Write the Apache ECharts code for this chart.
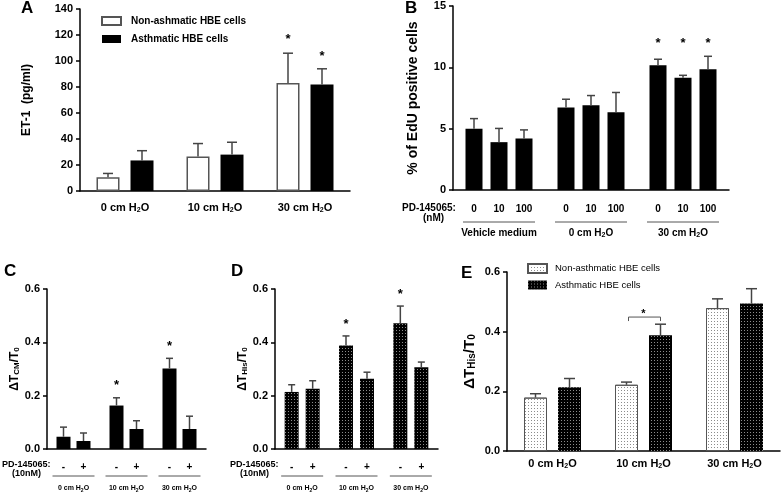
<!DOCTYPE html>
<html><head><meta charset="utf-8">
<script src="https://cdn.jsdelivr.net/npm/echarts@6/dist/echarts.min.js"></script>
<style>html,body{margin:0;padding:0;background:#fff}#c{width:781px;height:493px}</style>
</head><body><div id="c"></div>
<script>
// ---------- DATA ----------
// Panel A: ET-1 (pg/ml)
const catsA = ['0 cm H2O', '10 cm H2O', '30 cm H2O'];
const aNonMean = [10.5, 26.5, 83];
const aNonSem = [3, 10, 23];
const aAsthMean = [23.5, 28, 82];
const aAsthSem = [7.5, 9.5, 12];
const aNonStar = [0, 0, 119];
const aAsthStar = [0, 0, 106];
const aYAxis = [0, 140, 20];
// Panel B: % of EdU positive cells
const catsB = ['Vehicle medium', '0 cm H2O', '30 cm H2O'];
const dosesB = ['0', '10', '100'];
const b0Mean = [5.0, 6.72, 10.18];
const b0Sem = [0.82, 0.68, 0.48];
const b10Mean = [3.9, 6.9, 9.15];
const b10Sem = [1.12, 0.8, 0.2];
const b100Mean = [4.2, 6.33, 9.85];
const b100Sem = [0.7, 1.62, 1.05];
const bStar = [0, 0, 12.2];
const bYAxis = [0, 15, 5];
// Panel C: dT_CM/T0
const catsC = ['0 cm H2O', '10 cm H2O', '30 cm H2O'];
const pdLabels = ['-', '+'];
const cMinusMean = [0.046, 0.163, 0.302];
const cMinusSem = [0.036, 0.029, 0.038];
const cPlusMean = [0.03, 0.075, 0.075];
const cPlusSem = [0.03, 0.031, 0.048];
const cStar = [0, 0.248, 0.397];
// Panel D: dT_His/T0
const catsD = ['0 cm H2O', '10 cm H2O', '30 cm H2O'];
const dMinusMean = [0.214, 0.388, 0.472];
const dMinusSem = [0.027, 0.036, 0.064];
const dPlusMean = [0.226, 0.263, 0.307];
const dPlusSem = [0.03, 0.025, 0.019];
const dStar = [0, 0.479, 0.59];
// Panel E: dT_His/T0
const catsE = ['0 cm H2O', '10 cm H2O', '30 cm H2O'];
const eNonMean = [0.179, 0.222, 0.479];
const eNonSem = [0.013, 0.009, 0.031];
const eAsthMean = [0.214, 0.388, 0.494];
const eAsthSem = [0.029, 0.037, 0.05];
const eBracketCat = [1];
const eBracketY = [0.449];
const eBracketStar = [0.468];
const cdeYAxis = [0, 0.6, 0.2];

// ---------- HELPERS ----------
const F = 'Liberation Sans, Arial, sans-serif';
const h2o = v => v.replace('H2O', 'H{s|2}O');
function xAx(gi, cats, margin, fs) {
  return {
    type: 'category', gridIndex: gi, data: cats,
    axisTick: {show: false},
    axisLine: {lineStyle: {color: '#000', width: 1.5}},
    axisLabel: {
      interval: 0, hideOverlap: false,
      margin: margin, color: '#000', fontFamily: F, fontWeight: 'bold', fontSize: fs,
      lineHeight: fs + 2, formatter: h2o,
      rich: {s: {fontSize: Math.round(fs * 0.65), fontWeight: 'bold', fontFamily: F, color: '#000', verticalAlign: 'bottom', lineHeight: fs + 2}}
    }
  };
}
function yAx(gi, ax, name, nameGap, nfs, fmt) {
  return {
    type: 'value', gridIndex: gi, min: ax[0], max: ax[1], interval: ax[2],
    axisLine: {show: true, lineStyle: {color: '#000', width: 1.5}},
    axisTick: {show: true, length: 4, lineStyle: {color: '#000', width: 1.5}},
    splitLine: {show: false},
    axisLabel: {margin: 7, color: '#000', fontFamily: F, fontWeight: 'bold', fontSize: 11, formatter: fmt},
    name: name, nameLocation: 'middle', nameGap: nameGap, nameRotate: 90,
    nameTextStyle: {
      color: '#000', fontFamily: F, fontWeight: 'bold', fontSize: nfs,
      rich: {s: {fontSize: Math.round(nfs * 0.65), fontWeight: 'bold', fontFamily: F, color: '#000', verticalAlign: 'bottom'}}
    }
  };
}
function errSeries(gi, means, sems, stars, offset, capW) {
  return {
    type: 'custom', xAxisIndex: gi, yAxisIndex: gi, z: 5, silent: true,
    data: means.map((m, i) => [i, m, sems[i], stars ? stars[i] : 0]),
    encode: {x: 0, y: 1},
    renderItem(params, api) {
      const i = api.value(0), m = api.value(1), s = api.value(2), st = api.value(3);
      const p0 = api.coord([i, m]), p1 = api.coord([i, m + s]);
      const x = p0[0] + offset;
      const ch = [
        {type: 'line', shape: {x1: x, y1: p0[1], x2: x, y2: p1[1]}, style: {stroke: '#444', lineWidth: 1.5}},
        {type: 'line', shape: {x1: x - capW / 2, y1: p1[1], x2: x + capW / 2, y2: p1[1]}, style: {stroke: '#444', lineWidth: 1.5}}
      ];
      if (st > 0) {
        const ps = api.coord([i, st]);
        ch.push({type: 'text', style: {text: '*', x: x, y: ps[1] + 3, align: 'center', verticalAlign: 'middle', textAlign: 'center', textVerticalAlign: 'middle', font: 'bold 13px ' + F, fill: '#000'}});
      }
      return {type: 'group', children: ch};
    }
  };
}
function subLabels(gi, cats, labels, spacing, textOff, lineOff, lineHalf, font) {
  return {
    type: 'custom', xAxisIndex: gi, yAxisIndex: gi, z: 5, silent: true,
    data: cats.map((c, i) => [i, 0]), encode: {x: 0, y: 1},
    renderItem(params, api) {
      const p = api.coord([api.value(0), 0]);
      const n = labels.length;
      const ch = labels.map((t, k) => ({type: 'text', style: {text: t, x: p[0] + (k - (n - 1) / 2) * spacing, y: p[1] + textOff, align: 'center', verticalAlign: 'middle', textAlign: 'center', textVerticalAlign: 'middle', font: font, fill: '#000'}}));
      ch.push({type: 'line', shape: {x1: p[0] - lineHalf, y1: p[1] + lineOff, x2: p[0] + lineHalf, y2: p[1] + lineOff}, style: {stroke: '#555', lineWidth: 1}});
      return {type: 'group', children: ch};
    }
  };
}
const decalDark = {symbol: 'rect', symbolSize: 1, color: 'rgba(255,255,255,0.55)', dashArrayX: [1, 2], dashArrayY: [1, 2], rotation: 0};
const decalLight = {symbol: 'rect', symbolSize: 1, color: 'rgba(0,0,0,0.45)', dashArrayX: [1, 2], dashArrayY: [1, 2], rotation: 0};
const blackBar = {color: '#000'};
const fmt1 = v => v.toFixed(1);

const wA = 23, gA = 11, wB = 17, gB = 8, wC = 14, gC = 6, wD = 14, gD = 7, wE = 23, gE = 11;
const sA = (wA + gA) / 2, sB = wB + gB, sC = (wC + gC) / 2, sD = (wD + gD) / 2, sE = (wE + gE) / 2;

const option = {
  backgroundColor: '#fff',
  animation: false,
  grid: [
    {left: 80, top: 9, width: 270, height: 182},
    {left: 453, top: 6, width: 276, height: 184},
    {left: 47, top: 289, width: 159, height: 161},
    {left: 275, top: 289, width: 163, height: 161},
    {left: 507, top: 272, width: 273, height: 179}
  ],
  xAxis: [
    xAx(0, catsA, 10, 11),
    xAx(1, catsB, 37, 10),
    xAx(2, catsC, 35, 7),
    xAx(3, catsD, 35, 7),
    xAx(4, catsE, 6, 11)
  ],
  yAxis: [
    yAx(0, aYAxis, 'ET-1  (pg/ml)', 47, 12),
    yAx(1, bYAxis, '% of EdU positive cells', 33, 14),
    yAx(2, cdeYAxis, 'ΔT{s|CM}/T{s|0}', 26, 12, fmt1),
    yAx(3, cdeYAxis, 'ΔT{s|His}/T{s|0}', 20, 12, fmt1),
    yAx(4, cdeYAxis, 'ΔT{s|His}/T{s|0}', 30, 15, fmt1)
  ],
  legend: [
    {left: 96, top: 11, orient: 'vertical', icon: 'rect', itemWidth: 19, itemHeight: 8, itemGap: 8, selectedMode: false,
     data: ['Non-ashmatic HBE cells', 'Asthmatic HBE cells'],
     textStyle: {fontFamily: F, fontWeight: 'bold', fontSize: 10, color: '#000', padding: [0, 0, 0, 5]}},
    {left: 522, top: 258, orient: 'vertical', icon: 'rect', itemWidth: 19, itemHeight: 9, itemGap: 6, selectedMode: false,
     data: ['Non-asthmatic HBE cells', 'Asthmatic HBE cells '],
     textStyle: {fontFamily: F, fontSize: 9.5, color: '#000', padding: [0, 0, 0, 3]}}
  ],
  series: [
    // A
    {type: 'bar', name: 'Non-ashmatic HBE cells', xAxisIndex: 0, yAxisIndex: 0, data: aNonMean, barWidth: wA, barGap: (gA / wA * 100) + '%', itemStyle: {color: '#fff', borderColor: '#555', borderWidth: 1.5}},
    {type: 'bar', name: 'Asthmatic HBE cells', xAxisIndex: 0, yAxisIndex: 0, data: aAsthMean, barWidth: wA, barGap: (gA / wA * 100) + '%', itemStyle: blackBar},
    errSeries(0, aNonMean, aNonSem, aNonStar, -sA, 10),
    errSeries(0, aAsthMean, aAsthSem, aAsthStar, sA, 10),
    // B
    {type: 'bar', name: 'b0', xAxisIndex: 1, yAxisIndex: 1, data: b0Mean, barWidth: wB, barGap: (gB / wB * 100) + '%', itemStyle: blackBar},
    {type: 'bar', name: 'b10', xAxisIndex: 1, yAxisIndex: 1, data: b10Mean, barWidth: wB, barGap: (gB / wB * 100) + '%', itemStyle: blackBar},
    {type: 'bar', name: 'b100', xAxisIndex: 1, yAxisIndex: 1, data: b100Mean, barWidth: wB, barGap: (gB / wB * 100) + '%', itemStyle: blackBar},
    errSeries(1, b0Mean, b0Sem, bStar, -sB, 8),
    errSeries(1, b10Mean, b10Sem, bStar, 0, 8),
    errSeries(1, b100Mean, b100Sem, bStar, sB, 8),
    subLabels(1, catsB, dosesB, sB, 19, 32, 36, 'bold 10px ' + F),
    // C
    {type: 'bar', name: 'c-', xAxisIndex: 2, yAxisIndex: 2, data: cMinusMean, barWidth: wC, barGap: (gC / wC * 100) + '%', itemStyle: blackBar},
    {type: 'bar', name: 'c+', xAxisIndex: 2, yAxisIndex: 2, data: cPlusMean, barWidth: wC, barGap: (gC / wC * 100) + '%', itemStyle: blackBar},
    errSeries(2, cMinusMean, cMinusSem, cStar, -sC, 7),
    errSeries(2, cPlusMean, cPlusSem, null, sC, 7),
    subLabels(2, catsC, pdLabels, 2 * sC, 18, 27, 21, 'bold 10px ' + F),
    // D
    {type: 'bar', name: 'd-', xAxisIndex: 3, yAxisIndex: 3, data: dMinusMean, barWidth: wD, barGap: (gD / wD * 100) + '%', itemStyle: {color: '#000', decal: decalDark}},
    {type: 'bar', name: 'd+', xAxisIndex: 3, yAxisIndex: 3, data: dPlusMean, barWidth: wD, barGap: (gD / wD * 100) + '%', itemStyle: {color: '#000', decal: decalDark}},
    errSeries(3, dMinusMean, dMinusSem, dStar, -sD, 7),
    errSeries(3, dPlusMean, dPlusSem, null, sD, 7),
    subLabels(3, catsD, pdLabels, 2 * sD, 18, 27, 21, 'bold 10px ' + F),
    // E
    {type: 'bar', name: 'Non-asthmatic HBE cells', xAxisIndex: 4, yAxisIndex: 4, data: eNonMean, barWidth: wE, barGap: (gE / wE * 100) + '%', itemStyle: {color: '#fff', borderColor: '#555', borderWidth: 1, decal: decalLight}},
    {type: 'bar', name: 'Asthmatic HBE cells ', xAxisIndex: 4, yAxisIndex: 4, data: eAsthMean, barWidth: wE, barGap: (gE / wE * 100) + '%', itemStyle: {color: '#000', decal: decalDark}},
    errSeries(4, eNonMean, eNonSem, null, -sE, 11),
    errSeries(4, eAsthMean, eAsthSem, null, sE, 11),
    {
      type: 'custom', xAxisIndex: 4, yAxisIndex: 4, z: 5, silent: true,
      data: eBracketCat.map((c, i) => [c, eBracketY[i], eBracketStar[i]]), encode: {x: 0, y: 1},
      renderItem(params, api) {
        const p = api.coord([api.value(0), api.value(1)]);
        const ps = api.coord([api.value(0), api.value(2)]);
        const x1 = p[0] - sE + 2, x2 = p[0] + sE;
        return {type: 'group', children: [
          {type: 'polyline', shape: {points: [[x1, p[1] + 4], [x1, p[1]], [x2, p[1]], [x2, p[1] + 4]]}, style: {stroke: '#555', lineWidth: 1, fill: null}},
          {type: 'text', style: {text: '*', x: p[0], y: ps[1] + 3, align: 'center', verticalAlign: 'middle', textAlign: 'center', textVerticalAlign: 'middle', font: 'bold 11px ' + F, fill: '#000'}}
        ]};
      }
    }
  ],
  graphic: [
    {type: 'text', left: 21, top: 0, style: {text: 'A', font: 'bold 17px ' + F, fill: '#000'}},
    {type: 'text', left: 405, top: 0, style: {text: 'B', font: 'bold 17px ' + F, fill: '#000'}},
    {type: 'text', left: 4, top: 263, style: {text: 'C', font: 'bold 17px ' + F, fill: '#000'}},
    {type: 'text', left: 231, top: 263, style: {text: 'D', font: 'bold 17px ' + F, fill: '#000'}},
    {type: 'text', left: 461, top: 265, style: {text: 'E', font: 'bold 17px ' + F, fill: '#000'}},
    {type: 'text', left: 402, top: 203, style: {text: 'PD-145065:', font: 'bold 10px ' + F, fill: '#000'}},
    {type: 'text', left: 423, top: 213, style: {text: '(nM)', font: 'bold 10px ' + F, fill: '#000'}},
    {type: 'text', left: 2, top: 460, style: {text: 'PD-145065:', font: 'bold 9px ' + F, fill: '#000'}},
    {type: 'text', left: 12, top: 469, style: {text: '(10nM)', font: 'bold 9px ' + F, fill: '#000'}},
    {type: 'text', left: 230, top: 460, style: {text: 'PD-145065:', font: 'bold 9px ' + F, fill: '#000'}},
    {type: 'text', left: 240, top: 469, style: {text: '(10nM)', font: 'bold 9px ' + F, fill: '#000'}}
  ]
};
const chart = echarts.init(document.getElementById('c'), null, {renderer: 'canvas'});
chart.setOption(option);
</script>
</body></html>
